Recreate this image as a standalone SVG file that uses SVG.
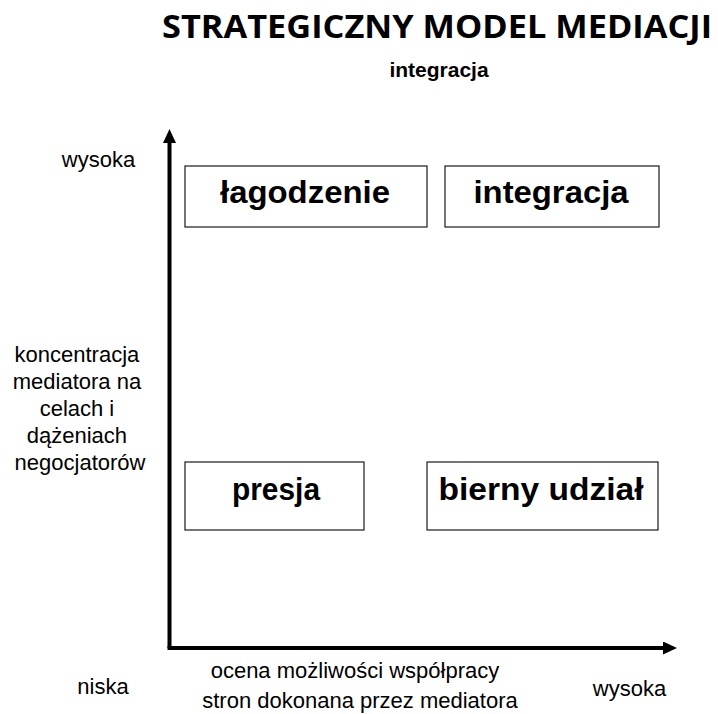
<svg xmlns="http://www.w3.org/2000/svg" width="718" height="714" viewBox="0 0 718 714">
  <style>
    .title { font-family: "Open Sans", "Liberation Sans", sans-serif; font-weight: bold; font-size: 32px; fill: #000; }
    .sub { font-family: "Liberation Sans", Arial, sans-serif; font-weight: bold; font-size: 21px; fill: #000; }
    .box { fill: #fff; stroke: #1a1a1a; stroke-width: 1.2; }
    .boxlabel { font-family: "Liberation Sans", Arial, sans-serif; font-weight: bold; font-size: 31px; fill: #000; text-anchor: middle; }
    .lbl { font-family: "Liberation Sans", Arial, sans-serif; font-size: 22px; fill: #000; text-anchor: middle; }
    .axis { fill: none; stroke: #000; stroke-width: 4; stroke-linejoin: miter; }
  </style>
  <defs>
    <marker id="arrow" viewBox="0 0 14 13" refX="0" refY="6.5" markerWidth="14" markerHeight="13" markerUnits="userSpaceOnUse" orient="auto">
      <path d="M0,0 L14,6.5 L0,13 Z" fill="#000"/>
    </marker>
  </defs>

  <g id="title">
    <text class="title" x="437" y="38" text-anchor="middle" textLength="550" lengthAdjust="spacingAndGlyphs">STRATEGICZNY MODEL MEDIACJI</text>
    <text class="sub" x="439" y="77" text-anchor="middle">integracja</text>
  </g>

  <g id="connectors">
    <path id="y-axis" class="axis" d="M169.5,648 V143" marker-end="url(#arrow)"/>
    <path id="x-axis" class="axis" d="M167.5,648 H663" marker-end="url(#arrow)"/>
  </g>

  <g id="node-lagodzenie">
    <rect class="box" x="185" y="166" width="242" height="61"/>
    <text class="boxlabel" x="305" y="203" textLength="170" lengthAdjust="spacingAndGlyphs">łagodzenie</text>
  </g>
  <g id="node-integracja">
    <rect class="box" x="445" y="166" width="214" height="61"/>
    <text class="boxlabel" x="551" y="203" textLength="155" lengthAdjust="spacingAndGlyphs">integracja</text>
  </g>
  <g id="node-presja">
    <rect class="box" x="185" y="462" width="179" height="68"/>
    <text class="boxlabel" x="276" y="500" textLength="88" lengthAdjust="spacingAndGlyphs">presja</text>
  </g>
  <g id="node-bierny">
    <rect class="box" x="427" y="462" width="231" height="68"/>
    <text class="boxlabel" x="541" y="500" textLength="205" lengthAdjust="spacingAndGlyphs">bierny udział</text>
  </g>

  <g id="axis-labels">
    <text class="lbl" x="98.5" y="167">wysoka</text>
    <text class="lbl" x="80">
      <tspan x="80" y="362">koncentracja</tspan>
      <tspan x="80" y="389">mediatora na</tspan>
      <tspan x="80" y="416">celach i</tspan>
      <tspan x="80" y="443">dążeniach</tspan>
      <tspan x="80" y="470">negocjatorów</tspan>
    </text>
    <text class="lbl" x="103" y="694">niska</text>
    <text class="lbl" x="359">
      <tspan x="358" y="678">ocena możliwości współpracy</tspan>
      <tspan x="360" y="708">stron dokonana przez mediatora</tspan>
    </text>
    <text class="lbl" x="629.5" y="696">wysoka</text>
  </g>
</svg>
